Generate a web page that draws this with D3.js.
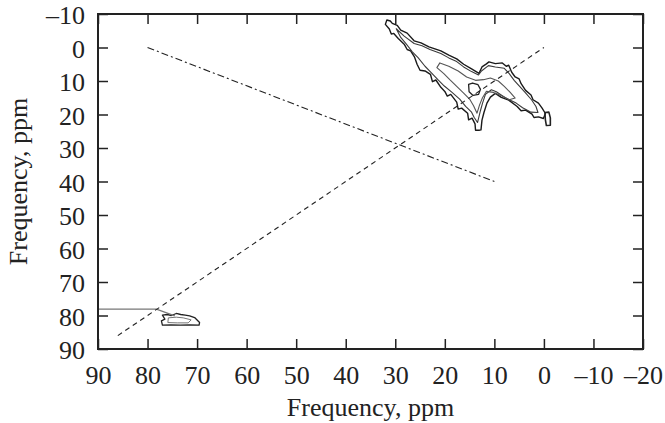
<!DOCTYPE html>
<html>
  <head>
    <meta charset="utf-8" />
    <title>Frequency map</title>
    <script src="https://d3js.org/d3.v7.min.js"></script>
    <style>
      body {
        margin: 0;
        background: #fff;
      }
      text {
        font-family: "Liberation Serif", "DejaVu Serif", serif;
        fill: #222;
      }
    </style>
  </head>
  <body>

    <svg id="chart">
      <g id="marks"></g>
      <g id="x"></g>
      <g id="xTop"></g>
      <g id="y"></g>
      <g id="yRight"></g>
    </svg>

    <script>

      // tick values on both axes (ppm)
      var xTicks = [90, 80, 70, 60, 50, 40, 30, 20, 10, 0, -10, -20];
      var yTicks = [-10, 0, 10, 20, 30, 40, 50, 60, 70, 80, 90];

      // reference lines [x ppm, y ppm]
      var diagonalLine = [[86, 86], [0, 0]];
      var dashDotLine = [[80, 0], [10, 40]];
      var leaderLine = [[90, 78.1], [78.2, 78.1], [74.5, 80.1]];

      // contour levels of the main cross peak
      var contourOuter = [
        [31.7, -8.2], [31.0, -7.9], [30.6, -7.2], [29.6, -6.6], [28.9, -5.2],
        [27.6, -4.3], [26.2, -2.0], [24.8, -1.4], [23.2, -0.2], [20.8, 1.0],
        [19.2, 2.3], [17.6, 3.4], [16.2, 5.0], [14.6, 6.4], [13.1, 7.7],
        [12.5, 5.8], [11.6, 4.9], [11.1, 4.3], [9.8, 4.8], [8.4, 4.6],
        [7.6, 5.6], [7.1, 5.3], [6.5, 7.4], [5.8, 8.8], [5.0, 9.4],
        [4.6, 10.8], [3.7, 12.8], [2.6, 14.2], [2.2, 15.6], [1.1, 16.6],
        [0.4, 18.0], [-0.3, 19.7], [0.1, 21.2], [1.1, 20.7], [2.0, 20.9],
        [2.4, 19.9], [3.7, 18.7], [4.6, 18.9], [5.4, 17.6], [7.1, 15.7],
        [8.6, 14.9], [9.8, 13.7], [10.8, 14.8], [11.5, 16.6], [12.1, 19.4],
        [12.5, 21.7], [12.7, 24.6], [13.1, 24.7], [13.8, 24.7], [13.9, 22.8],
        [14.5, 21.1], [15.2, 21.6], [15.4, 19.6], [16.6, 18.1], [17.3, 18.4],
        [17.6, 16.3], [18.8, 14.0], [19.5, 14.5], [20.0, 13.1], [20.8, 11.9],
        [21.8, 9.7], [22.5, 10.2], [22.9, 8.0], [24.0, 7.0], [25.0, 6.8],
        [25.6, 5.0], [26.1, 2.9], [26.9, 1.0], [27.6, 0.6], [28.2, -1.0],
        [29.4, -2.7], [30.3, -4.2], [30.8, -4.0], [31.2, -5.5], [32.0, -6.9]
      ];
      var contourMiddle = [
        [29.8, -5.6], [28.2, -3.4], [26.2, -1.2], [24.6, -0.5], [23.0, 0.6],
        [20.8, 1.8], [19.2, 3.1], [17.6, 4.2], [16.2, 5.8], [14.6, 7.2],
        [13.2, 8.2], [12.6, 7.0], [11.2, 5.4], [9.8, 5.8], [8.0, 6.2],
        [7.0, 7.8], [6.0, 9.8], [4.9, 11.6], [3.8, 13.4], [2.5, 15.6],
        [1.6, 17.6], [1.2, 19.4], [2.6, 19.3], [4.3, 18.0], [5.6, 16.6],
        [7.8, 15.0], [9.6, 13.2], [10.6, 12.6], [11.8, 14.0], [12.4, 16.7],
        [12.8, 18.8], [13.4, 22.4], [14.1, 20.8], [14.6, 19.3], [15.8, 17.6],
        [17.0, 15.4], [18.6, 13.3], [20.1, 11.5], [21.4, 9.6], [22.8, 7.4],
        [24.0, 5.6], [25.4, 3.0], [26.6, 1.2], [27.8, -1.1], [28.9, -3.0]
      ];
      var contourInner = [
        [21.0, 4.6], [19.2, 5.6], [17.3, 7.0], [15.6, 8.8], [13.8, 9.8],
        [12.2, 9.6], [10.8, 9.1], [9.2, 10.0], [8.0, 11.6], [6.8, 13.4],
        [5.8, 15.1], [7.0, 15.6], [8.6, 14.3], [10.2, 13.4], [11.6, 13.1],
        [12.4, 15.0], [13.0, 17.2], [13.5, 19.6], [14.2, 17.4], [15.0, 15.4],
        [16.2, 13.6], [17.6, 11.6], [19.0, 9.6], [20.2, 7.8], [21.6, 6.0]
      ];
      var contourCore = [
        [15.2, 11.0], [14.4, 10.6], [13.3, 11.1], [12.8, 12.5], [13.2, 14.0],
        [14.3, 14.3], [15.1, 13.2]
      ];
      var contourSide = [
        [-0.2, 19.4], [-1.0, 19.3], [-1.3, 21.0], [-1.3, 23.2], [-0.5, 23.3],
        [-0.3, 21.6]
      ];

      // weak peak near the bottom left
      var blobOuter = [
        [77.0, 79.9], [76.0, 79.7], [75.2, 80.0], [74.2, 79.4], [73.3, 79.7],
        [72.4, 79.9], [71.5, 80.1], [70.5, 80.6], [69.5, 82.1], [69.6, 82.9],
        [71.5, 82.8], [73.4, 82.9], [75.3, 82.8], [77.0, 82.9], [77.2, 81.6],
        [76.5, 81.1]
      ];
      var blobInner = [
        [75.8, 80.7], [74.2, 80.5], [72.8, 80.7], [71.2, 81.3], [71.8, 82.2],
        [74.0, 82.2], [75.9, 82.1]
      ];

      var width = 665;
      var height = 423;
      var margin = {
        top: 14,
        right: 22,
        bottom: 74,
        left: 98
      };

      var svg = d3.select("#chart")
        .attr("width", width)
        .attr("height", height);

      var x = d3.scaleLinear()
        .domain([90, -20])
        .range([margin.left, width - margin.right]);

      var y = d3.scaleLinear()
        .domain([-10, 90])
        .range([margin.top, height - margin.bottom]);

      function fmt(d) {
        return d < 0 ? "\u2013" + (-d) : d;
      }

      var openLine = d3.line()
        .x(function(d) { return x(d[0]); })
        .y(function(d) { return y(d[1]); });

      var ringLine = d3.line()
        .x(function(d) { return x(d[0]); })
        .y(function(d) { return y(d[1]); })
        .curve(d3.curveLinearClosed);

      var marks = svg.select("#marks");

      // contours
      var contours = [
        { pts: contourOuter, color: "#1a1a1a", w: 1.4 },
        { pts: contourMiddle, color: "#3a3a3a", w: 1.1 },
        { pts: contourInner, color: "#555", w: 1.1 },
        { pts: contourCore, color: "#222", w: 1.3 },
        { pts: contourSide, color: "#222", w: 1.6 },
        { pts: blobOuter, color: "#222", w: 1.3 },
        { pts: blobInner, color: "#666", w: 0.9 }
      ];

      marks.selectAll(".contour")
        .data(contours)
        .enter().append("path")
        .attr("class", "contour")
        .attr("d", function(d) { return ringLine(d.pts); })
        .attr("fill", "none")
        .attr("stroke", function(d) { return d.color; })
        .attr("stroke-width", function(d) { return d.w; })
        .attr("stroke-linejoin", "round");

      marks.append("path")
        .attr("d", openLine(leaderLine))
        .attr("fill", "none")
        .attr("stroke", "#777")
        .attr("stroke-width", 1.4);

      marks.append("path")
        .attr("d", openLine(diagonalLine))
        .attr("fill", "none")
        .attr("stroke", "#222")
        .attr("stroke-width", 1.1)
        .attr("stroke-dasharray", "5,4");

      marks.append("path")
        .attr("d", openLine(dashDotLine))
        .attr("fill", "none")
        .attr("stroke", "#222")
        .attr("stroke-width", 1.1)
        .attr("stroke-dasharray", "7,3,2,3");

      // axes, ticks inward on all four sides
      var xAxis = d3.axisBottom(x)
        .tickValues(xTicks)
        .tickFormat(fmt)
        .tickSizeInner(-10)
        .tickSizeOuter(0)
        .tickPadding(17);

      svg.select("#x")
        .attr("transform", "translate(0, " + (height - margin.bottom) + ")")
        .call(xAxis);

      svg.select("#xTop")
        .attr("transform", "translate(0, " + margin.top + ")")
        .call(d3.axisTop(x).tickValues(xTicks).tickFormat("").tickSizeInner(-10).tickSizeOuter(0));

      var yAxis = d3.axisLeft(y)
        .tickValues(yTicks)
        .tickFormat(fmt)
        .tickSizeInner(-10)
        .tickSizeOuter(0)
        .tickPadding(13);

      svg.select("#y")
        .attr("transform", "translate(" + margin.left + ", 0)")
        .call(yAxis);

      svg.select("#y").selectAll(".tick text")
        .attr("dy", "0.38em");

      svg.select("#yRight")
        .attr("transform", "translate(" + (width - margin.right) + ", 0)")
        .call(d3.axisRight(y).tickValues(yTicks).tickFormat("").tickSizeInner(-10).tickSizeOuter(0));

      svg.selectAll(".domain").remove();
      svg.selectAll(".tick line")
        .attr("stroke", "#222")
        .attr("stroke-width", 1.5);
      svg.selectAll(".tick text")
        .style("font-family", "'Liberation Serif', serif")
        .style("font-size", "26px")
        .attr("fill", "#222");

      svg.append("rect")
        .attr("x", margin.left)
        .attr("y", margin.top)
        .attr("width", width - margin.left - margin.right)
        .attr("height", height - margin.top - margin.bottom)
        .attr("fill", "none")
        .attr("stroke", "#222")
        .attr("stroke-width", 2);

      // axis titles
      svg.append("text")
        .attr("x", (margin.left + width - margin.right) / 2)
        .attr("y", 416)
        .attr("text-anchor", "middle")
        .style("font-size", "26px")
        .text("Frequency, ppm");

      svg.append("text")
        .attr("transform", "translate(27, " + y(40) + ") rotate(-90)")
        .attr("text-anchor", "middle")
        .style("font-size", "26px")
        .text("Frequency, ppm");

    </script>
  </body>
</html>
